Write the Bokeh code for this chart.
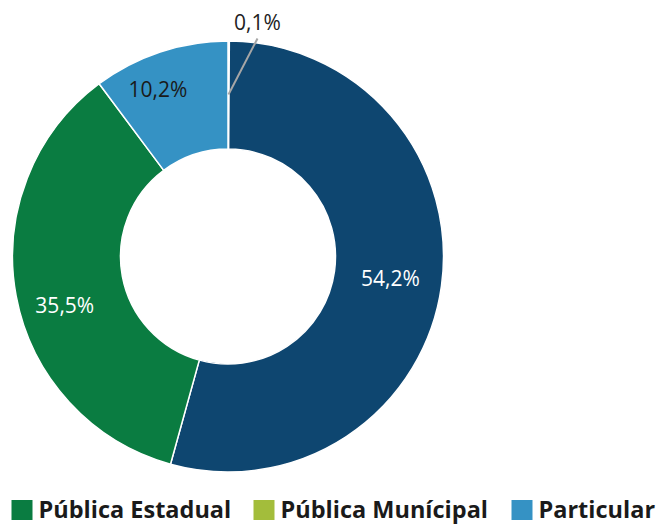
import numpy as np
from bokeh.plotting import figure
from bokeh.models import Range1d, ColumnDataSource
from bokeh.core.properties import value
from bokeh.embed import file_html
from bokeh.resources import INLINE

# Data (clockwise from top)
categories = ["Pública Munícipal", "Outro", "Pública Estadual", "Particular"]
shares = [0.1, 54.2, 35.5, 10.2]
labels = ["0,1%", "54,2%", "35,5%", "10,2%"]
colors = ["#a3bd3b", "#0e4670", "#0a7c41", "#3592c4"]
legend_items = ["Pública Estadual", "Pública Munícipal", "Particular"]
legend_colors = ["#0a7c41", "#a3bd3b", "#3592c4"]

W, H = 661, 525
p = figure(width=W, height=H, output_backend="svg", toolbar_location=None,
           x_range=Range1d(0, W), y_range=Range1d(0, H), min_border=0,
           outline_line_color=None)
p.axis.visible = False
p.grid.visible = False
p.background_fill_color = "white"

def py(y):  # page-y to data-y
    return H - y

cx, cy = 227.5, py(256)
r_in, r_out = 107.5, 215.5

frac = np.array(shares) / sum(shares)
cum = np.concatenate([[0], np.cumsum(frac)])
start = np.pi / 2 - 2 * np.pi * cum[1:]
end = np.pi / 2 - 2 * np.pi * cum[:-1]
src = ColumnDataSource(dict(start=start, end=end, color=colors))
p.annular_wedge(x=cx, y=cy, inner_radius=r_in, outer_radius=r_out,
                start_angle="start", end_angle="end", fill_color="color",
                line_color="white", line_width=1.5, source=src)

mid = np.pi / 2 - 2 * np.pi * (cum[:-1] + cum[1:]) / 2
lab_r = 162
nudge = [(0, 0), (2, 1), (-4, -19), (-19, 14)]
text_colors = ["#222222", "white", "white", "#1a1a1a"]
for i in range(1, 4):
    x = cx + lab_r * np.cos(mid[i]) + nudge[i][0]
    y = cy + lab_r * np.sin(mid[i]) + nudge[i][1]
    p.text(x=[x], y=[y], text=[labels[i]], text_align="center", text_baseline="middle",
           text_font=value("Open Sans"), text_font_size="21px", text_color=text_colors[i])

# small slice leader
a0 = mid[0]
x1, y1 = cx + lab_r * np.cos(a0), cy + lab_r * np.sin(a0)
x2, y2 = 257, py(38)
p.line(x=[x1, x2], y=[y1, y2], line_color="#a6a6a6", line_width=2)
p.text(x=[x2], y=[py(21)], text=[labels[0]], text_align="center", text_baseline="middle",
       text_font=value("Open Sans"), text_font_size="21px", text_color="#222222")

# legend
lx = [11, 253, 511]
for i, (name, c) in enumerate(zip(legend_items, legend_colors)):
    p.rect(x=[lx[i] + 10.5], y=[py(509.5)], width=21, height=20, fill_color=c, line_color=None)
    p.text(x=[lx[i] + 27], y=[py(508.5)], text=[name], text_align="left", text_baseline="middle",
           text_font=value("Open Sans"), text_font_style="bold", text_font_size="23.5px",
           text_color="#1a1a1a")

open("out.html", "w").write(file_html(p, INLINE))
